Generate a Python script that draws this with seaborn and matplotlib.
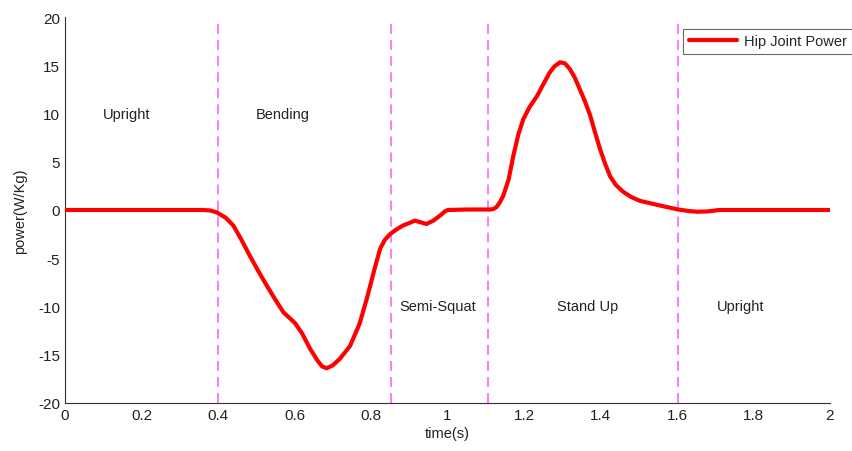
import numpy as np
import pandas as pd
import matplotlib
matplotlib.use('Agg')
import matplotlib.pyplot as plt
import seaborn as sns

# 髋关节功率曲线
time_s = [0.0, 0.2, 0.36, 0.38, 0.397, 0.42, 0.44, 0.46, 0.484, 0.505, 0.527,
          0.55, 0.571, 0.59, 0.601, 0.62, 0.641, 0.66, 0.672, 0.684, 0.70,
          0.719, 0.745, 0.77, 0.789, 0.81, 0.824, 0.836, 0.85, 0.867, 0.884,
          0.90, 0.915, 0.928, 0.945, 0.963, 0.98, 0.993, 1.001, 1.05, 1.085,
          1.111, 1.12, 1.128, 1.137, 1.146, 1.16, 1.172, 1.185, 1.198, 1.215,
          1.234, 1.25, 1.268, 1.28, 1.294, 1.307, 1.32, 1.333, 1.346, 1.36,
          1.373, 1.386, 1.399, 1.412, 1.425, 1.44, 1.459, 1.48, 1.503, 1.53,
          1.563, 1.603, 1.63, 1.652, 1.68, 1.71, 1.75, 1.9, 2.0]
power = [0.0, 0.0, 0.0, -0.05, -0.25, -0.8, -1.6, -3.0, -4.8, -6.3, -7.8,
         -9.3, -10.6, -11.3, -11.7, -12.8, -14.4, -15.6, -16.2, -16.4, -16.1,
         -15.4, -14.1, -11.8, -9.2, -6.0, -4.0, -3.1, -2.5, -2.0, -1.6,
         -1.35, -1.1, -1.25, -1.45, -1.1, -0.6, -0.15, 0.0, 0.05, 0.05,
         0.05, 0.1, 0.3, 0.8, 1.5, 3.2, 5.6, 7.8, 9.4, 10.7,
         11.8, 13.0, 14.3, 14.9, 15.3, 15.2, 14.6, 13.7, 12.5, 11.2,
         9.8, 8.0, 6.3, 4.8, 3.5, 2.6, 1.9, 1.35, 0.95, 0.7,
         0.4, 0.05, -0.1, -0.18, -0.15, 0.0, 0.0, 0.0, 0.0]

# 阶段分界线与标注
phase_bounds = [0.4, 0.852, 1.105, 1.602]
phase_labels = ['Upright', 'Bending', 'Semi-Squat', 'Stand Up', 'Upright']
label_x = [0.1, 0.5, 0.875, 1.285, 1.705]
label_y = [10, 10, -10, -10, -10]

sns.set_style('white')
plt.rcParams['font.family'] = ['Liberation Sans', 'DejaVu Sans']
plt.rcParams['axes.unicode_minus'] = False

df = pd.DataFrame({'time': time_s, 'power': power})

fig = plt.figure(figsize=(8.53, 4.52), dpi=100)
ax = fig.add_axes([65 / 853, 48 / 452, 765 / 853, 386 / 452])

sns.lineplot(data=df, x='time', y='power', color='#ff0000', linewidth=3,
             label='Hip Joint Power', ax=ax, zorder=3)

for xb in phase_bounds:
    ax.plot([xb, xb], [-20, 19.3], color='#ff55ff', linestyle=(0, (6.5, 4)),
            linewidth=1.1, zorder=2)

for txt, xx, yy in zip(phase_labels, label_x, label_y):
    ax.text(xx, yy, txt, fontsize=10.5, ha='left', va='center', color='#222222')

ax.set_xlim(0, 2)
ax.set_ylim(-20, 20)
ax.set_xticks(np.arange(0, 2.01, 0.2))
ax.set_xticklabels(['0', '0.2', '0.4', '0.6', '0.8', '1', '1.2', '1.4',
                    '1.6', '1.8', '2'])
ax.set_yticks(range(-20, 21, 5))
ax.tick_params(direction='in', length=4, labelsize=11, color='#333333',
               labelcolor='#222222', top=False, right=False)
ax.set_xlabel('time(s)', fontsize=10.5, color='#222222', labelpad=3)
ax.set_ylabel('power(W/Kg)', fontsize=10.5, color='#222222', labelpad=8)

for side in ['top', 'right']:
    ax.spines[side].set_visible(False)
for side in ['left', 'bottom']:
    ax.spines[side].set_color('#333333')
    ax.spines[side].set_linewidth(0.8)

leg = ax.legend(loc='upper right', bbox_to_anchor=(1.03, 0.97), fontsize=10.5,
                frameon=True, fancybox=False, handlelength=3.3,
                borderpad=0.4, handletextpad=0.5, borderaxespad=0)
leg.get_frame().set_edgecolor('#444444')
leg.get_frame().set_linewidth(0.8)

fig.savefig('out.png', dpi=100)
